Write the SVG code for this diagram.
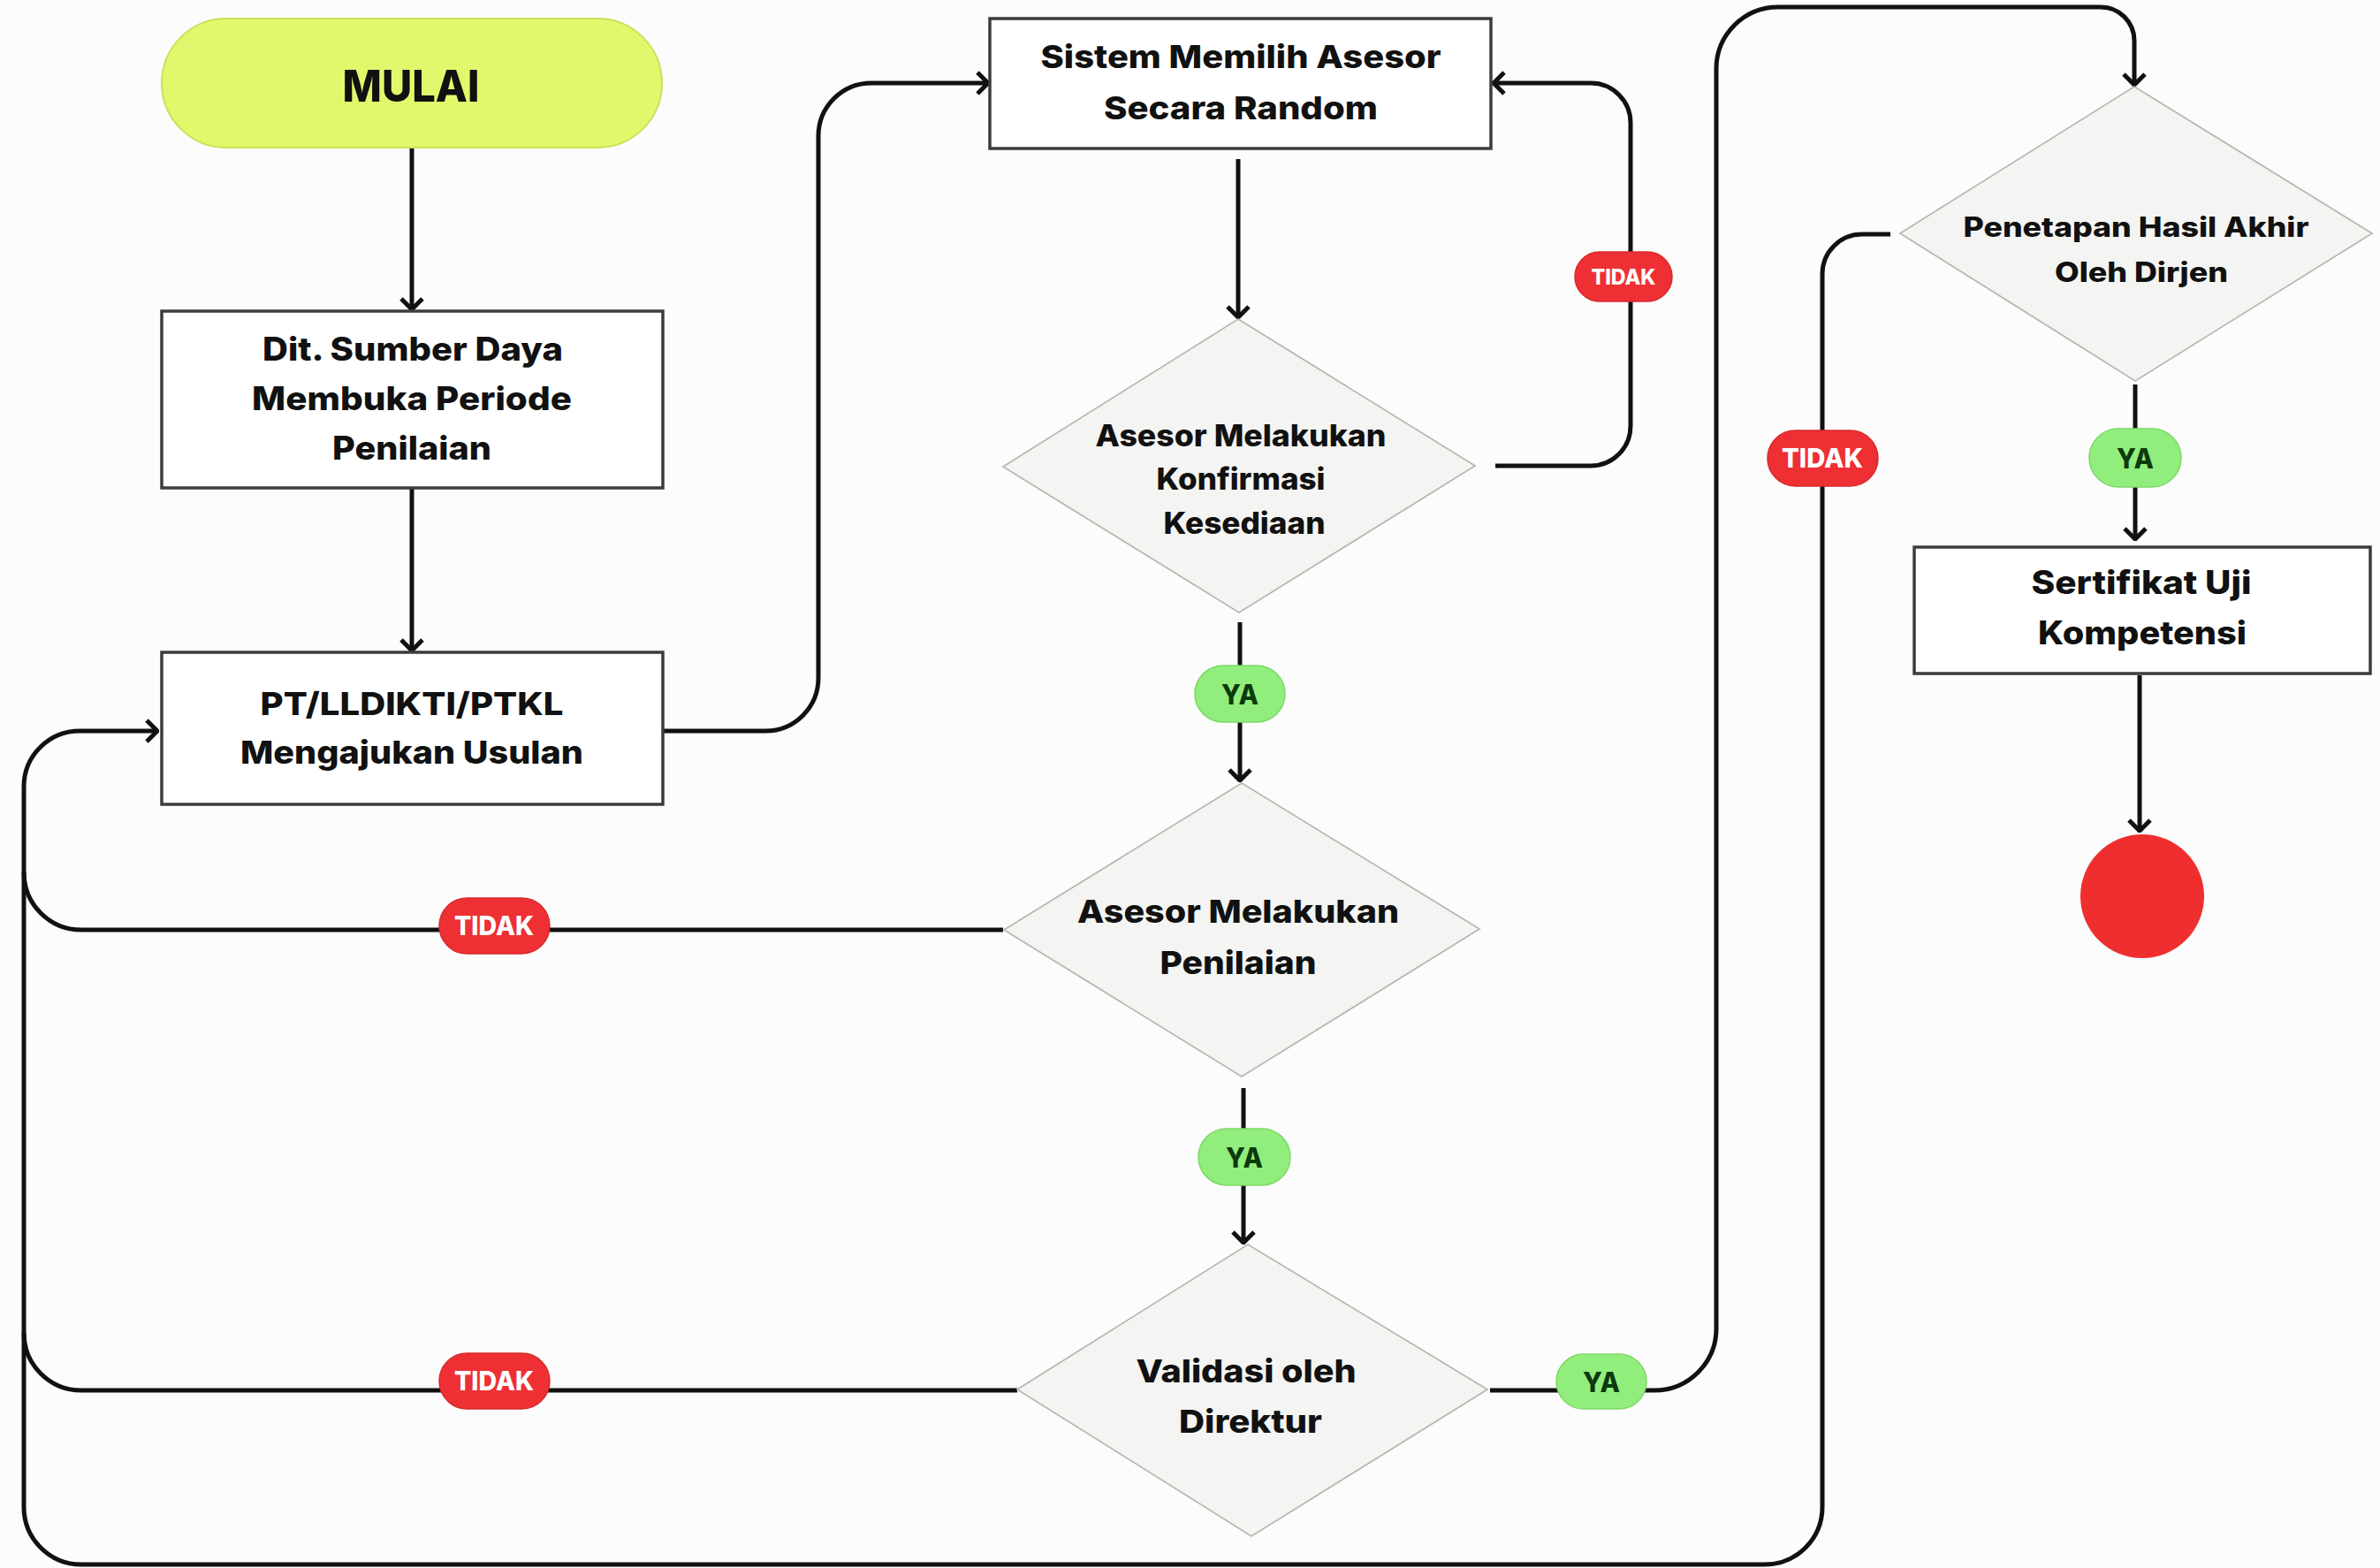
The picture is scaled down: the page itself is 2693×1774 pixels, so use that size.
<svg xmlns="http://www.w3.org/2000/svg" width="2693" height="1774" viewBox="0 0 2693 1774">
<style>
.box{fill:#ffffff;stroke:#3c3c3c;stroke-width:3.5}
.dia{fill:#f4f4f2;stroke:#b9b9b2;stroke-width:1.8}
.t{font-family:Inter,"Liberation Sans",Arial,sans-serif;font-weight:800;fill:#111;text-anchor:middle}
.con{fill:none;stroke:#111;stroke-width:5}
.arr{marker-end:url(#chev)}
.no{fill:#ee3034;stroke:#d62a2c;stroke-width:1.5}
.yes{fill:#92ee7c;stroke:#7dd868;stroke-width:1.5}
.nt{font-family:Inter,"Liberation Sans",Arial,sans-serif;font-weight:800;fill:#ffffff;text-anchor:middle}
.yt{font-family:Inter,"Liberation Sans",Arial,sans-serif;font-weight:800;fill:#0c3a0c;text-anchor:middle}
</style>
<defs>
<marker id="chev" viewBox="0 0 16 28" refX="14" refY="14" markerWidth="16" markerHeight="28" markerUnits="userSpaceOnUse" orient="auto">
<path d="M2,2 L14,14 L2,26" fill="none" stroke="#111" stroke-width="5" stroke-linejoin="miter"/>
</marker>
</defs>
<rect x="0" y="0" width="2693" height="1774" fill="#fcfcfc"/>

<g id="connectors">
<path class="con arr" d="M466 168 V350"/>
<path class="con arr" d="M466 553 V736"/>
<path class="con arr" d="M750 827 H866 A60 60 0 0 0 926 767 V154 A60 60 0 0 1 986 94 H1118"/>
<path class="con arr" d="M1401 180 V359"/>
<path class="con arr" d="M1692 527 H1800 A45 45 0 0 0 1845 482 V139 A45 45 0 0 0 1800 94 H1690"/>
<path class="con arr" d="M1403 704 V883"/>
<path class="con arr" d="M1407 1231 V1406"/>
<path class="con" d="M1135 1052 H92 A65 65 0 0 1 27 987"/>
<path class="con" d="M1151 1573 H92 A65 65 0 0 1 27 1508"/>
<path class="con arr" d="M1686 1573 H1872 A70 70 0 0 0 1942 1503 V78 A70 70 0 0 1 2012 8 H2377 A38 38 0 0 1 2415 46 V96"/>
<path class="con arr" d="M2139 265 H2107 A45 45 0 0 0 2062 310 V1705 A65 65 0 0 1 1997 1770 H92 A65 65 0 0 1 27 1705 V890 A63 63 0 0 1 90 827 H178"/>
<path class="con arr" d="M2416 435 V610"/>
<path class="con arr" d="M2421 764 V940"/>
</g>

<g id="node-mulai">
<rect x="183" y="21" width="566" height="146" rx="73" fill="#e2f86c" stroke="#cbe05a" stroke-width="2"/>
<text class="t" x="465" y="115" font-size="50" textLength="155" lengthAdjust="spacingAndGlyphs">MULAI</text>
</g>

<g id="node-dit">
<rect class="box" x="183" y="352" width="567" height="200"/>
<text class="t" x="467" y="408" font-size="37" textLength="340" lengthAdjust="spacingAndGlyphs">Dit. Sumber Daya</text>
<text class="t" x="466" y="464" font-size="37" textLength="362" lengthAdjust="spacingAndGlyphs">Membuka Periode</text>
<text class="t" x="466" y="520" font-size="37" textLength="180" lengthAdjust="spacingAndGlyphs">Penilaian</text>
</g>

<g id="node-pt">
<rect class="box" x="183" y="738" width="567" height="172"/>
<text class="t" x="466" y="809" font-size="36" textLength="343" lengthAdjust="spacingAndGlyphs">PT/LLDIKTI/PTKL</text>
<text class="t" x="466" y="864" font-size="36" textLength="388" lengthAdjust="spacingAndGlyphs">Mengajukan Usulan</text>
</g>

<g id="node-sistem">
<rect class="box" x="1120" y="21" width="567" height="147"/>
<text class="t" x="1404" y="77" font-size="36" textLength="453" lengthAdjust="spacingAndGlyphs">Sistem Memilih Asesor</text>
<text class="t" x="1404" y="135" font-size="36" textLength="310" lengthAdjust="spacingAndGlyphs">Secara Random</text>
</g>

<g id="node-konfirmasi">
<polygon class="dia" points="1401,361 1669,527 1402,693 1135,528"/>
<text class="t" x="1404" y="505" font-size="34" textLength="329" lengthAdjust="spacingAndGlyphs">Asesor Melakukan</text>
<text class="t" x="1404" y="554" font-size="34" textLength="191" lengthAdjust="spacingAndGlyphs">Konfirmasi</text>
<text class="t" x="1408" y="604" font-size="34" textLength="183" lengthAdjust="spacingAndGlyphs">Kesediaan</text>
</g>

<g id="node-penilaian">
<polygon class="dia" points="1405,886 1674,1051 1405,1218 1136,1052"/>
<text class="t" x="1401" y="1044" font-size="36" textLength="364" lengthAdjust="spacingAndGlyphs">Asesor Melakukan</text>
<text class="t" x="1401" y="1102" font-size="36" textLength="177" lengthAdjust="spacingAndGlyphs">Penilaian</text>
</g>

<g id="node-validasi">
<polygon class="dia" points="1412,1408 1683,1572 1416,1738 1151,1572"/>
<text class="t" x="1410" y="1564" font-size="36" textLength="249" lengthAdjust="spacingAndGlyphs">Validasi oleh</text>
<text class="t" x="1415" y="1621" font-size="36" textLength="162" lengthAdjust="spacingAndGlyphs">Direktur</text>
</g>

<g id="node-penetapan">
<polygon class="dia" points="2415,98 2684,264 2416,431 2150,264"/>
<text class="t" x="2417" y="268" font-size="31" textLength="391" lengthAdjust="spacingAndGlyphs">Penetapan Hasil Akhir</text>
<text class="t" x="2423" y="319" font-size="31" textLength="196" lengthAdjust="spacingAndGlyphs">Oleh Dirjen</text>
</g>

<g id="node-sertifikat">
<rect class="box" x="2166" y="619" width="516" height="143"/>
<text class="t" x="2423" y="672" font-size="37" textLength="249" lengthAdjust="spacingAndGlyphs">Sertifikat Uji</text>
<text class="t" x="2424" y="729" font-size="37" textLength="236" lengthAdjust="spacingAndGlyphs">Kompetensi</text>
</g>

<g id="node-selesai">
<circle cx="2424" cy="1014" r="70" fill="#ef2f2f"/>
</g>

<g id="labels">
<g id="label-tidak-konfirmasi">
<rect class="no" x="1782" y="285" width="110" height="56" rx="28"/>
<text class="nt" x="1837" y="321.5" font-size="24" textLength="73" lengthAdjust="spacingAndGlyphs">TIDAK</text>
</g>
<g id="label-tidak-penilaian">
<rect class="no" x="497" y="1016" width="125" height="63" rx="31.5"/>
<text class="nt" x="559" y="1058" font-size="30" textLength="90" lengthAdjust="spacingAndGlyphs">TIDAK</text>
</g>
<g id="label-tidak-validasi">
<rect class="no" x="497" y="1531" width="125" height="63" rx="31.5"/>
<text class="nt" x="559" y="1573" font-size="30" textLength="90" lengthAdjust="spacingAndGlyphs">TIDAK</text>
</g>
<g id="label-tidak-penetapan">
<rect class="no" x="2000" y="487" width="125" height="63" rx="31.5"/>
<text class="nt" x="2062" y="529" font-size="30" textLength="92" lengthAdjust="spacingAndGlyphs">TIDAK</text>
</g>
<g id="label-ya-konfirmasi">
<rect class="yes" x="1352" y="753" width="102" height="64" rx="32"/>
<text class="yt" x="1403" y="796.5" font-size="31" textLength="42" lengthAdjust="spacingAndGlyphs">YA</text>
</g>
<g id="label-ya-penilaian">
<rect class="yes" x="1356" y="1277" width="104" height="64" rx="32"/>
<text class="yt" x="1408" y="1320.5" font-size="31" textLength="42" lengthAdjust="spacingAndGlyphs">YA</text>
</g>
<g id="label-ya-validasi">
<rect class="yes" x="1761" y="1532" width="102" height="62" rx="31"/>
<text class="yt" x="1812" y="1574.5" font-size="31" textLength="42" lengthAdjust="spacingAndGlyphs">YA</text>
</g>
<g id="label-ya-penetapan">
<rect class="yes" x="2364" y="485" width="104" height="66" rx="33"/>
<text class="yt" x="2416" y="530" font-size="31" textLength="42" lengthAdjust="spacingAndGlyphs">YA</text>
</g>
</g>
</svg>
